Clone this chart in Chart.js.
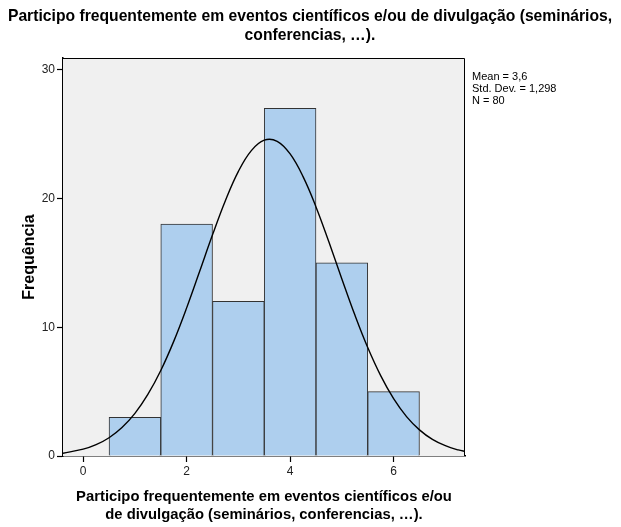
<!DOCTYPE html>
<html>
<head>
<meta charset="utf-8">
<script src="https://cdn.jsdelivr.net/npm/chart.js@4.4.1/dist/chart.umd.min.js"></script>
<style>
  html, body { margin: 0; padding: 0; background: #fff; }
  #wrap { width: 621px; height: 527px; }
</style>
</head>
<body>
<div id="wrap"><canvas id="hist"></canvas></div>
<script>
// Histogram bins (centre value) and counts
const binCentres = [1, 2, 3, 4, 5, 6];
const binCounts = [3, 18, 12, 27, 15, 5];

// Normal curve
const curveX = [-0.4, 0, 0.25, 0.5, 0.75, 1, 1.25, 1.5, 1.75, 2, 2.25, 2.5, 2.75, 3, 3.25, 3.5,
  3.75, 4, 4.25, 4.5, 4.75, 5, 5.25, 5.5, 5.75, 6, 6.25, 6.5, 6.75, 7, 7.25, 7.4];
const curveY = [0.21, 0.53, 0.88, 1.42, 2.21, 3.31, 4.78, 6.64, 8.9, 11.5, 14.32, 17.17, 19.84, 22.1, 23.71, 24.52,
  24.43, 23.45, 21.69, 19.34, 16.61, 13.75, 10.96, 8.42, 6.24, 4.45, 3.06, 2.03, 1.29, 0.8, 0.47, 0.34];

const xTicks = [0, 2, 4, 6];
const yTicks = [0, 10, 20, 30];
const stats = ["Mean = 3,6", "Std. Dev. = 1,298", "N = 80"];
const titleLines = [
  "Participo frequentemente em eventos científicos e/ou de divulgação (seminários,",
  "conferencias, …).",
];

const FONT = "'Liberation Sans', Arial, sans-serif";

// plot background + frame + title + stats text
const frame = {
  id: "frame",
  beforeDatasetsDraw(chart) {
    const { ctx, chartArea: a } = chart;
    ctx.save();
    ctx.fillStyle = "#f0f0f0";
    ctx.fillRect(a.left, a.top, a.right - a.left, a.bottom - a.top);
    ctx.restore();
  },
  afterDraw(chart) {
    const { ctx, chartArea: a } = chart;
    ctx.save();
    ctx.strokeStyle = "#000";
    ctx.lineWidth = 1;
    ctx.beginPath();
    ctx.moveTo(a.left, a.top + 0.5);
    ctx.lineTo(a.right - 0.5, a.top + 0.5);
    ctx.lineTo(a.right - 0.5, a.bottom);
    ctx.stroke();

    // title, centred on the whole page
    ctx.fillStyle = "#000";
    ctx.font = "bold 15.7px " + FONT;
    ctx.textBaseline = "middle";
    ctx.textAlign = "center";
    for (let i = 0; i < titleLines.length; i++) {
      ctx.fillText(titleLines[i], chart.width / 2 - 0.5, 17 + i * 18.5);
    }

    ctx.font = "11px " + FONT;
    ctx.textAlign = "left";
    for (let i = 0; i < stats.length; i++) {
      ctx.fillText(stats[i], a.right + 7, 77 + i * 12);
    }
    ctx.restore();
  },
};

new Chart(document.getElementById("hist"), {
  data: {
    datasets: [
      {
        type: "line",
        data: curveX.map((x, i) => ({ x: x, y: curveY[i] })),
        borderColor: "#000",
        borderWidth: 1.4,
        pointRadius: 0,
        tension: 0.4,
        fill: false,
        order: 0,
      },
      {
        type: "bar",
        data: binCentres.map((x, i) => ({ x: x, y: binCounts[i] })),
        backgroundColor: "#aecfee",
        borderColor: "#333",
        borderWidth: 1,
        borderSkipped: "bottom",
        barPercentage: 1,
        categoryPercentage: 1,
        order: 1,
      },
    ],
  },
  options: {
    responsive: true,
    maintainAspectRatio: false,
    animation: false,
    events: [],
    layout: { padding: { left: 0, right: 156, top: 58, bottom: 0 } },
    plugins: {
      legend: { display: false },
      tooltip: { enabled: false },
      title: { display: false },
    },
    scales: {
      x: {
        type: "linear",
        min: -0.39,
        max: 7.38,
        offset: false,
        afterBuildTicks: (s) => { s.ticks = xTicks.map((v) => ({ value: v })); },
        afterFit: (s) => { s.height = 71; },
        ticks: { color: "#222", font: { family: FONT, size: 12 }, padding: 2 },
        grid: { offset: false, drawOnChartArea: false, color: "#000", tickLength: 6, tickWidth: 1.2 },
        border: { color: "#000", width: 1.5 },
        title: {
          display: true,
          text: [
            "Participo frequentemente em eventos científicos e/ou",
            "de divulgação (seminários, conferencias, …).",
          ],
          color: "#000",
          font: { family: FONT, size: 14.8, weight: "bold", lineHeight: 1.22 },
          padding: { top: 0, bottom: 3 },
        },
      },
      y: {
        type: "linear",
        min: 0,
        max: 30.9,
        afterBuildTicks: (s) => { s.ticks = yTicks.map((v) => ({ value: v })); },
        afterFit: (s) => { s.width = 63; },
        ticks: { color: "#222", font: { family: FONT, size: 12 }, padding: 2 },
        grid: { drawOnChartArea: false, color: "#000", tickLength: 6, tickWidth: 1.2 },
        border: { color: "#000", width: 1.5 },
        title: {
          display: true,
          text: "Frequência",
          color: "#000",
          font: { family: FONT, size: 16, weight: "bold", lineHeight: 1.2 },
          padding: { top: 20, bottom: 0 },
        },
      },
    },
  },
  plugins: [frame],
});
</script>
</body>
</html>
